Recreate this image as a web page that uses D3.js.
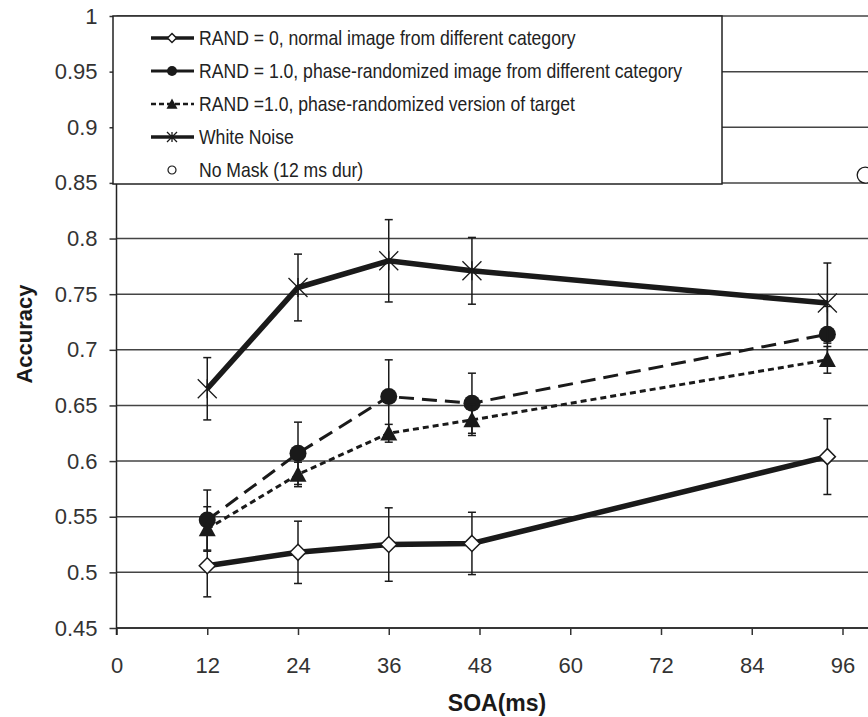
<!DOCTYPE html>
<html>
<head>
<meta charset="utf-8">
<script src="https://cdn.jsdelivr.net/npm/d3@7"></script>
<style>
  body { margin: 0; background: #fff; }
  svg { display: block; font-family: "Liberation Sans", Arial, sans-serif; }
</style>
</head>
<body>
<div id="chart"></div>
<script>
// SOA values (ms) and accuracy per condition
const soa = [12, 24, 36, 47, 94]

const rand0Acc = [0.506, 0.518, 0.525, 0.526, 0.604]
const rand0Err = [0.028, 0.028, 0.033, 0.028, 0.034]

const rand1DiffAcc = [0.547, 0.607, 0.658, 0.652, 0.714]
const rand1DiffErr = [0.027, 0.028, 0.033, 0.027, 0.025]

const rand1TargetAcc = [0.539, 0.588, 0.625, 0.637, 0.691]
const rand1TargetErr = [0.02, 0.011, 0.008, 0.014, 0.012]

const whiteNoiseAcc = [0.665, 0.756, 0.780, 0.771, 0.742]
const whiteNoiseErr = [0.028, 0.030, 0.037, 0.030, 0.036]

const noMaskSoa = 99
const noMaskAcc = 0.857

const xTicks = [0, 12, 24, 36, 48, 60, 72, 84, 96]
const yTicks = [0.45, 0.5, 0.55, 0.6, 0.65, 0.7, 0.75, 0.8, 0.85, 0.9, 0.95, 1]

const legendLabels = [
    'RAND = 0, normal image from different category',
    'RAND = 1.0, phase-randomized image from different category',
    'RAND =1.0, phase-randomized version of target',
    'White Noise',
    'No Mask (12 ms dur)'
]

const width = 868,
    height = 717

const ink = '#1a1a1a'

let x = d3.scaleLinear()
    .domain([0, 96])
    .range([116.5, 842.5])

let y = d3.scaleLinear()
    .domain([0.45, 1])
    .range([628, 16])

let svg = d3.select('#chart')
    .append('svg')
    .attr('width', width)
    .attr('height', height)

// horizontal gridlines
svg.append('g')
    .selectAll('line')
    .data(yTicks)
    .join('line')
    .attr('x1', x(0))
    .attr('x2', width)
    .attr('y1', d => y(d))
    .attr('y2', d => y(d))
    .attr('stroke', '#444')
    .attr('stroke-width', 1.5)

// axes
let xAxis = svg.append('g')
    .attr('transform', `translate(0,${y(0.45)})`)
    .call(d3.axisBottom(x).tickValues(xTicks).tickSize(7).tickPadding(22).tickSizeOuter(0))

xAxis.select('.domain').attr('d', `M${x(0)},0H${width}`)

let yAxis = svg.append('g')
    .attr('transform', `translate(${x(0)},0)`)
    .call(d3.axisLeft(y).tickValues(yTicks).tickFormat(d3.format('')).tickSize(7).tickPadding(12).tickSizeOuter(0))

yAxis.select('.domain').attr('d', `M0,${y(0.85)}V${y(0.45) + 7}`)

svg.selectAll('.tick line').attr('stroke', '#333').attr('stroke-width', 1.5)
svg.selectAll('.domain').attr('stroke', '#222').attr('stroke-width', 1.5)
svg.selectAll('.tick text')
    .attr('fill', '#333')
    .style('font-size', '22px')

// axis titles
svg.append('text')
    .attr('transform', `translate(32,${334}) rotate(-90)`)
    .attr('text-anchor', 'middle')
    .attr('fill', ink)
    .style('font-size', '22px')
    .style('font-weight', 'bold')
    .text('Accuracy')

svg.append('text')
    .attr('x', 497)
    .attr('y', 711)
    .attr('text-anchor', 'middle')
    .attr('fill', ink)
    .style('font-size', '23px')
    .style('font-weight', 'bold')
    .text('SOA(ms)')

// markers
function starPath(s) {
    return `M${-s},${-s}L${s},${s}M${-s},${s}L${s},${-s}M0,${-s}L0,${s}`
}

function drawMarker(g, type, size) {
    if (type == 'diamond') {
        g.append('path')
            .attr('d', `M0,${-size}L${size},0L0,${size}L${-size},0Z`)
            .attr('fill', '#fff')
            .attr('stroke', ink)
            .attr('stroke-width', 1.5)
    } else if (type == 'circle') {
        g.append('circle')
            .attr('r', size)
            .attr('fill', ink)
    } else if (type == 'triangle') {
        g.append('path')
            .attr('d', `M0,${-size}L${size},${size * 0.85}L${-size},${size * 0.85}Z`)
            .attr('fill', ink)
    } else if (type == 'star') {
        g.append('path')
            .attr('d', starPath(size))
            .attr('fill', 'none')
            .attr('stroke', ink)
            .attr('stroke-width', 1.3)
    }
}

let series = [
    { acc: rand0Acc, err: rand0Err, marker: 'diamond', size: 8, width: 5.5, dash: null },
    { acc: rand1DiffAcc, err: rand1DiffErr, marker: 'circle', size: 8.5, width: 3, dash: '15,8' },
    { acc: rand1TargetAcc, err: rand1TargetErr, marker: 'triangle', size: 8.5, width: 3, dash: '6,4' },
    { acc: whiteNoiseAcc, err: whiteNoiseErr, marker: 'star', size: 9.5, width: 5.5, dash: null }
]

let line = d3.line()
    .x(d => x(d.soa))
    .y(d => y(d.acc))

series.forEach(s => {
    let pts = soa.map((d, i) => ({ soa: d, acc: s.acc[i], err: s.err[i] }))
    let g = svg.append('g')

    // error bars
    let eb = g.selectAll('g.err')
        .data(pts)
        .join('g')
        .attr('class', 'err')
        .attr('stroke', ink)
        .attr('stroke-width', 1.5)
    eb.append('line')
        .attr('x1', d => x(d.soa)).attr('x2', d => x(d.soa))
        .attr('y1', d => y(d.acc + d.err)).attr('y2', d => y(d.acc - d.err))
    eb.append('line')
        .attr('x1', d => x(d.soa) - 4).attr('x2', d => x(d.soa) + 4)
        .attr('y1', d => y(d.acc + d.err)).attr('y2', d => y(d.acc + d.err))
    eb.append('line')
        .attr('x1', d => x(d.soa) - 4).attr('x2', d => x(d.soa) + 4)
        .attr('y1', d => y(d.acc - d.err)).attr('y2', d => y(d.acc - d.err))

    g.append('path')
        .datum(pts)
        .attr('d', line)
        .attr('fill', 'none')
        .attr('stroke', ink)
        .attr('stroke-width', s.width)
        .attr('stroke-dasharray', s.dash)

    g.selectAll('g.mk')
        .data(pts)
        .join('g')
        .attr('class', 'mk')
        .attr('transform', d => `translate(${x(d.soa)},${y(d.acc)})`)
        .each(function () { drawMarker(d3.select(this), s.marker, s.size) })
})

// no mask point
svg.append('circle')
    .attr('cx', x(noMaskSoa))
    .attr('cy', y(noMaskAcc))
    .attr('r', 8)
    .attr('fill', '#fff')
    .attr('stroke', ink)
    .attr('stroke-width', 1.3)

// legend
let legend = svg.append('g')

legend.append('rect')
    .attr('x', 113)
    .attr('y', 16)
    .attr('width', 609)
    .attr('height', 168)
    .attr('fill', '#fff')
    .attr('stroke', '#222')
    .attr('stroke-width', 1.5)

let legendItems = [
    { marker: 'diamond', size: 4.5, width: 3.5, dash: null },
    { marker: 'circle', size: 5, width: 3, dash: null },
    { marker: 'triangle', size: 5.5, width: 2.5, dash: '5,3' },
    { marker: 'star', size: 5, width: 3.5, dash: null },
    { marker: 'open', size: 4, width: 0, dash: null }
]

legendItems.forEach((it, i) => {
    let row = legend.append('g')
        .attr('transform', `translate(0,${38 + i * 33})`)
    if (it.width > 0) {
        row.append('line')
            .attr('x1', 151).attr('x2', 194)
            .attr('stroke', ink)
            .attr('stroke-width', it.width)
            .attr('stroke-dasharray', it.dash)
    }
    let m = row.append('g').attr('transform', 'translate(172,0)')
    if (it.marker == 'open') {
        m.append('circle')
            .attr('r', it.size)
            .attr('fill', '#fff')
            .attr('stroke', ink)
            .attr('stroke-width', 1.2)
    } else {
        drawMarker(m, it.marker, it.size)
    }
    row.append('text')
        .attr('transform', 'translate(199,7) scale(0.88,1)')
        .attr('fill', '#222')
        .style('font-size', '20px')
        .text(legendLabels[i])
})
</script>
</body>
</html>
